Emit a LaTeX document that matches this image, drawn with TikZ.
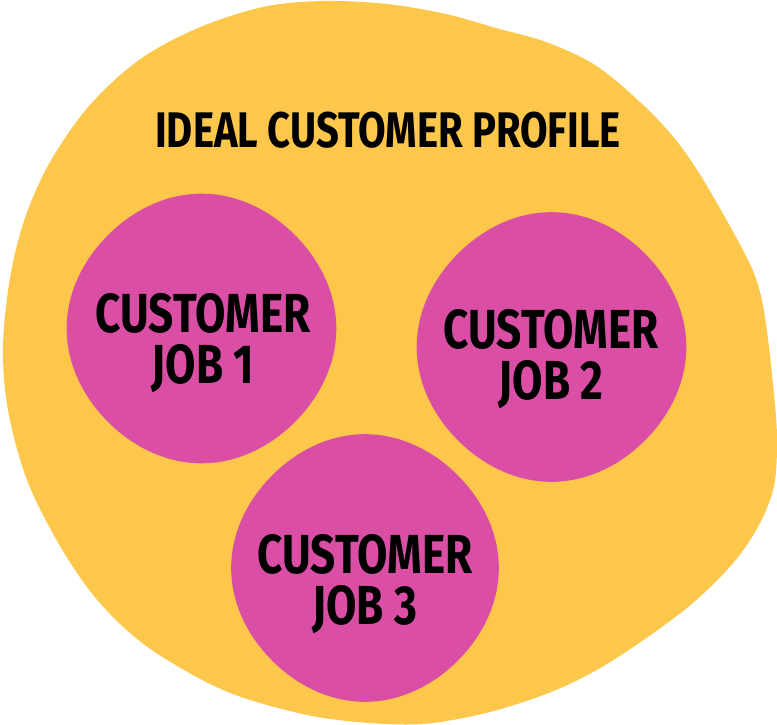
\documentclass[tikz,border=0pt]{standalone}
\usepackage{fontspec}
\newfontfamily\hand[FakeStretch=0.8]{Fira Sans}
\definecolor{blobyellow}{HTML}{FCC74A}
\definecolor{jobpink}{HTML}{DA4FA5}
\newcommand{\jobblobat}[3]{%
  \fill[jobblob] plot[smooth cycle,domain=0:355,samples=72,variable=\t]
    ({#1+#3*(1+0.01*cos(4*\t))*cos(\t)},{#2+#3*(1+0.01*cos(4*\t))*sin(\t)});}
\begin{document}
\begin{tikzpicture}[x=1pt,y=-1pt,
  yellowblob/.style={fill=blobyellow,draw=none},
  jobblob/.style={fill=jobpink,draw=none},
  titletext/.style={font=\hand\bfseries\fontsize{50}{50}\selectfont,inner sep=0pt},
  jobtext/.style={font=\hand\bfseries\fontsize{55}{51}\selectfont,align=center,inner sep=0pt}]
\useasboundingbox (0,0) rectangle (777,725);
\fill[yellowblob] plot[smooth cycle,tension=0.55] coordinates{
 (322,1) (387,4) (446,14) (496,28) (546,42) (595,65) (640,102) (675,139)
 (704,181) (744,252) (758,285) (766,324) (774,394) (777,440) (774,486)
 (759,525) (734,562) (694,602) (645,639) (595,671) (546,694) (486,713)
 (422,724) (357,722) (298,713) (223,690) (149,648) (99,602) (60,546)
 (27,480) (8,410) (3,347) (10,278) (25,218) (50,162) (89,106) (139,60)
 (198,28) (263,7)};
\jobblobat{201.5}{328.5}{133.5}
\jobblobat{551.5}{347}{133.5}
\jobblobat{365}{568}{132.5}
\node[titletext] (title) at (388,130) {IDEAL CUSTOMER PROFILE};
\node[jobtext] (job1) at (203,343) {CUSTOMER\\JOB 1};
\node[jobtext] (job2) at (551,359) {CUSTOMER\\JOB 2};
\node[jobtext] (job3) at (365,584) {CUSTOMER\\JOB 3};
\end{tikzpicture}
\end{document}
